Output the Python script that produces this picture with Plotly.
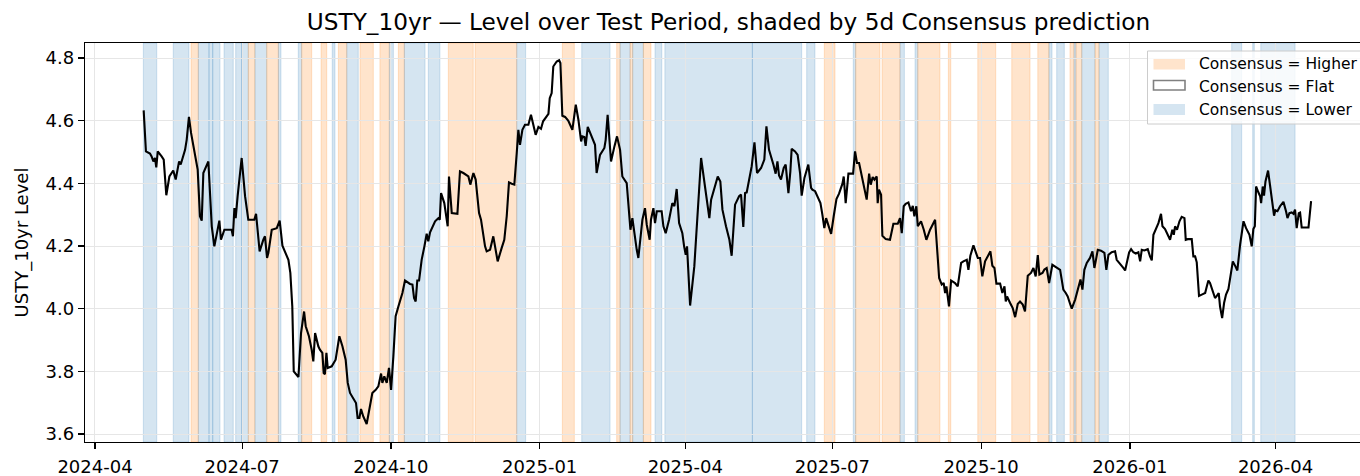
import pandas as pd
import plotly.graph_objects as go

# ---------------- data ----------------
base_date = "2024-04-01"   # day offsets below are counted from this date

level_day = [
    30.1, 31.5, 34.0, 35.0, 36.1, 37.1, 37.9, 38.8, 41.2, 42.5, 44.1, 46.0, 48.4, 49.9, 52.0, 53.0,
    55.7, 56.7, 58.1, 59.4, 63.5, 64.9, 66.0, 67.0, 70.1, 72.2, 73.8, 76.9, 77.9, 80.0, 84.5, 85.3,
    86.2, 87.0, 88.2, 90.7, 92.8, 94.8,
    98.5, 99.6, 101.8, 102.7, 104.1, 105.1, 106.4, 107.2, 109.3, 112.4, 114.2, 115.9, 117.1, 119.6,
    120.8, 122.0, 122.9, 125.8, 127.4, 129.3, 130.3, 132.3, 134.0, 135.0, 136.1, 138.1, 139.1, 140.6,
    141.4, 142.2, 143.1, 143.9, 146.4, 148.8, 151.1, 153.0, 155.0, 156.3, 157.7, 159.8, 161.4, 162.4,
    163.5, 164.5, 165.9, 168.0, 170.1, 171.5, 173.6, 175.2, 176.9, 177.7, 178.9, 180.4, 181.8, 183.1,
    184.5, 185.9, 187.6, 190.1, 191.7, 193.8,
    194.8, 196.3, 197.3, 198.3, 199.3, 200.4, 202.0, 203.7, 205.1, 206.1, 207.2, 210.3, 212.3, 213.2,
    214.0, 216.0, 218.1, 218.9, 220.6, 224.1, 225.7, 227.8, 230.9, 232.1, 234.0, 235.4, 237.5, 238.7,
    241.2, 242.2, 244.3, 246.3, 247.4, 249.0, 251.5, 253.1, 254.6, 256.0, 257.7, 259.3, 260.8, 261.8,
    262.8, 264.3, 265.9, 268.0, 269.6, 271.1, 272.5, 274.2, 275.8, 277.1, 279.3, 280.4, 281.2, 282.4,
    283.4, 285.5, 287.0, 287.8, 289.0, 290.7,
    292.7, 295.2, 297.3, 298.9, 300.6, 301.4, 302.6, 303.4, 304.7, 306.1, 308.2, 309.2, 310.2, 312.3,
    315.0, 315.8, 317.0, 317.9, 319.1, 321.2, 322.8, 324.7, 326.1, 328.8, 330.2, 331.1, 332.3, 333.3,
    335.0, 336.0, 337.3, 338.5, 340.1, 341.2, 343.0, 343.8, 345.3, 346.3, 347.4, 350.4, 351.5, 352.9,
    355.0, 357.0, 358.3, 359.7, 361.2, 363.2, 364.3, 365.3, 366.1, 368.0, 370.6, 372.7, 374.8, 377.2,
    379.9, 381.0, 385.1, 386.7, 388.0, 390.2, 392.3,
    393.7, 395.8, 398.3, 399.5, 400.9, 402.0, 403.0, 404.5, 406.1, 407.8, 409.4, 411.9, 413.9, 415.2,
    416.8, 419.5, 420.9, 422.0, 423.0, 424.2, 425.9, 427.1, 428.8, 430.0, 430.8, 432.9, 434.5, 436.0,
    437.0, 438.7, 441.1, 442.8, 443.6, 445.3, 446.9, 448.6, 449.8, 451.0, 452.1, 455.2, 456.8, 458.5,
    460.1, 462.2, 463.0, 464.2, 465.9, 468.8, 470.0, 471.2, 472.5, 474.1, 475.8, 477.2, 478.7, 479.7,
    480.9, 482.0, 483.4, 484.0, 484.8, 486.1, 486.9, 489.0, 491.6,
    493.7, 496.4, 497.8, 498.9, 500.1, 501.3, 503.0, 504.6, 505.7, 506.7, 507.9, 508.8, 510.8, 512.5,
    514.1, 516.4, 519.5, 522.0, 523.6, 524.8, 525.7, 526.5, 528.1, 529.4, 531.8, 533.5, 535.6, 537.0,
    539.1, 540.1, 541.3, 543.2, 544.6, 545.9, 547.3, 548.7, 550.4, 552.0, 553.7, 554.9, 556.2, 557.4,
    559.7, 561.1, 562.4, 563.2, 564.0, 565.9, 567.5, 569.0, 570.6, 572.0, 573.7, 575.1, 576.8, 578.8,
    580.3, 581.7, 583.0, 584.0, 585.9, 587.1, 588.5, 590.0,
    592.0, 594.7, 596.8, 597.8, 598.8, 600.3, 601.5, 603.0, 604.0, 606.1, 608.1, 609.4, 610.6, 611.8,
    613.3, 615.3, 616.8, 618.0, 618.8, 620.1, 622.1, 624.2, 625.4, 626.7, 628.7, 630.8, 631.8, 633.9,
    635.9, 637.0, 638.2, 639.5, 640.7, 642.1, 643.6, 645.2, 646.3, 647.3, 648.9, 651.0, 652.4, 653.5,
    654.5, 655.5, 657.6, 659.2, 660.1, 661.7, 663.4, 664.8, 666.2, 667.1, 667.9, 669.1, 670.6, 672.0,
    673.7, 674.5, 675.7, 678.2, 679.2, 680.3, 681.3, 682.7, 684.4, 686.5, 687.5, 688.5,
    689.5, 691.2, 692.6, 693.7, 694.9, 695.7, 697.0, 698.2, 699.4, 700.9, 702.3, 703.6, 705.2, 706.4,
    708.1, 709.3, 710.2, 711.8, 713.9, 715.3, 716.3, 717.2, 718.0, 719.2, 720.5, 721.1, 722.1, 722.9,
    723.8, 725.4, 727.1, 728.3, 729.1, 729.9, 731.2, 732.8, 734.9, 736.5, 737.4, 738.6, 740.0, 741.1,
    742.1, 743.1, 744.4, 745.2, 746.2, 749.3, 750.4, 752.0,
]

level_value = [
    4.633, 4.502, 4.495, 4.486, 4.470, 4.481, 4.451, 4.502, 4.486, 4.476, 4.362, 4.422, 4.441, 4.412, 4.470, 4.460,
    4.507, 4.539, 4.612, 4.561, 4.444, 4.295, 4.281, 4.433, 4.470, 4.263, 4.199, 4.281, 4.220, 4.252, 4.252, 4.231,
    4.321, 4.289, 4.359, 4.481, 4.359, 4.284,
    4.284, 4.303, 4.183, 4.199, 4.220, 4.231, 4.162, 4.178, 4.252, 4.257, 4.281, 4.201, 4.188, 4.156,
    4.114, 4.007, 3.800, 3.782, 3.922, 3.991, 3.944, 3.912, 3.869, 3.832, 3.922, 3.880, 3.869, 3.859,
    3.795, 3.791, 3.859, 3.811, 3.816, 3.837, 3.912, 3.880, 3.837, 3.763, 3.731, 3.715, 3.699, 3.651,
    3.651, 3.680, 3.656, 3.632, 3.699, 3.731, 3.741, 3.752, 3.793, 3.763, 3.784, 3.763, 3.811, 3.741,
    3.848, 3.976, 4.007, 4.050, 4.090, 4.082,
    4.079, 4.077, 4.034, 4.023, 4.090, 4.090, 4.156, 4.199, 4.239, 4.215, 4.244, 4.279, 4.289, 4.284,
    4.369, 4.337, 4.263, 4.422, 4.305, 4.303, 4.438, 4.433, 4.422, 4.396, 4.433, 4.412, 4.305, 4.284,
    4.199, 4.183, 4.188, 4.231, 4.194, 4.151, 4.194, 4.220, 4.295, 4.403, 4.399, 4.396, 4.497, 4.571,
    4.523, 4.571, 4.587, 4.587, 4.619, 4.582, 4.555, 4.580, 4.574, 4.598, 4.614, 4.622, 4.672, 4.688,
    4.773, 4.789, 4.793, 4.784, 4.616, 4.612,
    4.600, 4.571, 4.651, 4.604, 4.534, 4.550, 4.548, 4.520, 4.580, 4.563, 4.539, 4.523, 4.433, 4.491,
    4.513, 4.539, 4.619, 4.550, 4.470, 4.518, 4.550, 4.507, 4.422, 4.401, 4.289, 4.252, 4.289, 4.247,
    4.188, 4.162, 4.231, 4.284, 4.321, 4.268, 4.220, 4.284, 4.321, 4.273, 4.311, 4.311, 4.263, 4.241,
    4.284, 4.337, 4.327, 4.382, 4.273, 4.241, 4.199, 4.172, 4.199, 4.010, 4.135, 4.305, 4.481, 4.390,
    4.289, 4.348, 4.422, 4.406, 4.316, 4.263, 4.220,
    4.169, 4.332, 4.359, 4.364, 4.261, 4.369, 4.371, 4.412, 4.455, 4.531, 4.433, 4.449, 4.476, 4.582,
    4.507, 4.460, 4.431, 4.470, 4.425, 4.412, 4.449, 4.460, 4.369, 4.438, 4.510, 4.502, 4.491, 4.433,
    4.361, 4.417, 4.460, 4.386, 4.380, 4.375, 4.359, 4.337, 4.300, 4.257, 4.289, 4.239, 4.295, 4.350,
    4.367, 4.399, 4.422, 4.337, 4.431, 4.431, 4.502, 4.465, 4.465, 4.428, 4.390, 4.348, 4.431, 4.396,
    4.420, 4.412, 4.422, 4.337, 4.380, 4.364, 4.233, 4.222, 4.220,
    4.271, 4.271, 4.289, 4.241, 4.327, 4.335, 4.339, 4.311, 4.328, 4.295, 4.327, 4.263, 4.279, 4.252,
    4.220, 4.252, 4.284, 4.098, 4.077, 4.082, 4.050, 4.071, 4.007, 4.090, 4.082, 4.071, 4.146, 4.151,
    4.156, 4.124, 4.169, 4.202, 4.178, 4.162, 4.162, 4.103, 4.151, 4.167, 4.183, 4.137, 4.130, 4.080,
    4.080, 4.050, 4.071, 4.023, 4.039, 4.018, 4.002, 3.973, 4.015, 4.023, 4.013, 3.991, 4.105, 4.114,
    4.130, 4.103, 4.171, 4.109, 4.114, 4.125, 4.130, 4.082,
    4.140, 4.131, 4.124, 4.093, 4.061, 4.050, 4.039, 4.015, 4.000, 4.029, 4.071, 4.093, 4.061, 4.124,
    4.146, 4.162, 4.183, 4.130, 4.151, 4.188, 4.185, 4.178, 4.124, 4.172, 4.180, 4.183, 4.156, 4.144,
    4.130, 4.122, 4.156, 4.180, 4.190, 4.180, 4.176, 4.180, 4.151, 4.188, 4.186, 4.190, 4.167, 4.154,
    4.236, 4.250, 4.273, 4.303, 4.263, 4.254, 4.236, 4.220, 4.252, 4.236, 4.263, 4.252, 4.279, 4.293,
    4.289, 4.220, 4.222, 4.222, 4.167, 4.167, 4.148, 4.041, 4.045, 4.050, 4.071, 4.090,
    4.082, 4.052, 4.034, 4.041, 4.050, 4.007, 3.970, 4.018, 4.045, 4.063, 4.114, 4.151, 4.135, 4.122,
    4.204, 4.250, 4.279, 4.257, 4.236, 4.199, 4.254, 4.263, 4.390, 4.374, 4.359, 4.337, 4.390, 4.361,
    4.406, 4.441, 4.380, 4.329, 4.297, 4.314, 4.311, 4.327, 4.341, 4.311, 4.289, 4.305, 4.307, 4.303,
    4.316, 4.257, 4.305, 4.307, 4.259, 4.259, 4.259, 4.343,
]

# consensus prediction runs (start / end day offsets from base_date)
shade_start_day = [
    29.9, 48.4, 59.4, 63.9, 70.5, 72.8, 79.8, 87.0, 90.7, 94.8, 98.9, 106.2, 113.4, 125.7, 127.8,
    139.8, 146.7, 150.5, 155.7, 163.9, 176.2, 182.0, 187.6, 191.3, 206.1, 218.5, 235.0, 260.8, 289.0,
    301.0, 322.6, 324.7, 330.9, 332.5, 339.1, 346.3, 352.4, 406.5, 440.1, 451.0, 468.9, 470.4, 486.7,
    497.8, 507.1, 508.8, 527.7, 545.9, 566.9, 583.0, 589.9, 594.7, 602.9, 605.4, 606.6, 610.2, 618.4,
    620.9, 702.9, 715.9, 720.9,
]
shade_end_day = [
    38.2, 58.1, 63.9, 70.5, 72.8, 77.3, 85.5, 90.7, 94.8, 98.9, 106.2, 113.4, 115.0, 127.8, 134.0,
    143.3, 148.4, 155.7, 162.8, 172.1, 182.0, 184.5, 191.3, 204.1, 213.3, 233.9, 260.8, 266.3, 296.4,
    318.5, 324.7, 330.9, 332.5, 339.1, 343.8, 350.5, 406.5, 437.0, 445.2, 457.6, 470.4, 485.4, 497.8,
    500.5, 508.8, 522.5, 529.2, 557.0, 578.2, 589.9, 591.8, 599.4, 605.4, 606.6, 610.2, 618.4, 620.9,
    626.6, 709.1, 716.9, 742.1,
]
shade_label = [
    "Lower", "Lower", "Higher", "Lower", "Lower", "Lower", "Lower", "Lower", "Lower", "Higher", "Lower",
    "Higher", "Lower", "Lower", "Higher", "Higher", "Lower", "Higher", "Lower", "Higher", "Higher",
    "Lower", "Higher", "Lower", "Lower", "Higher", "Higher", "Lower", "Higher", "Lower", "Higher",
    "Lower", "Higher", "Lower", "Higher", "Lower", "Lower", "Lower", "Lower", "Higher", "Lower",
    "Higher", "Higher", "Lower", "Lower", "Higher", "Higher", "Higher", "Higher", "Higher", "Lower",
    "Lower", "Higher", "Lower", "Higher", "Lower", "Higher", "Lower", "Lower", "Lower", "Lower",
]

legend_labels = ["Consensus = Higher", "Consensus = Flat", "Consensus = Lower"]
y_tick_values = [3.6, 3.8, 4.0, 4.2, 4.4, 4.6, 4.8]

# ---------------- figure ----------------
W, H = 1360, 476
ML, MR, MT, MB = 85, 0, 43, 34
PW, PH = W - ML - MR, H - MT - MB

base = pd.Timestamp(base_date)
dates = base + pd.to_timedelta(level_day, unit="D")

FILL = {"Higher": "rgba(255,127,14,0.21)", "Lower": "rgba(31,119,180,0.19)"}

fig = go.Figure()
fig.add_trace(go.Scatter(x=dates, y=level_value, mode="lines",
                         line=dict(color="black", width=2.1), showlegend=False,
                         hoverinfo="skip"))

shapes = []
for s, e, lab in zip(shade_start_day, shade_end_day, shade_label):
    x0 = base + pd.Timedelta(days=s)
    x1 = base + pd.Timedelta(days=e)
    shapes.append(dict(type="rect", xref="x", yref="paper", x0=x0, x1=x1, y0=0, y1=1,
                       fillcolor=FILL[lab], line=dict(color=FILL[lab], width=1), layer="below"))


def px_x(p):
    return (p - ML) / PW


def px_y(p):
    return (H - MB - p) / PH


# legend (matplotlib-like box)
shapes.append(dict(type="rect", xref="paper", yref="paper", x0=px_x(1147.5), x1=px_x(1362),
                   y0=px_y(124), y1=px_y(51), fillcolor="rgba(255,255,255,0.8)",
                   line=dict(color="#cccccc", width=1), layer="above"))
patch_rows = [(59, 69.5), (80.5, 90), (104, 115)]
patch_fill = [FILL["Higher"], "white", FILL["Lower"]]
patch_line = [dict(width=0), dict(color="#808080", width=1.6), dict(width=0)]
text_y = [64, 87, 110]
annotations = []
for (t, b), fc, ln, ty, lab in zip(patch_rows, patch_fill, patch_line, text_y, legend_labels):
    shapes.append(dict(type="rect", xref="paper", yref="paper", x0=px_x(1153.5), x1=px_x(1185),
                       y0=px_y(b), y1=px_y(t), fillcolor=fc, line=ln, layer="above"))
    annotations.append(dict(text=lab, xref="paper", yref="paper", x=px_x(1196.5), y=px_y(ty),
                            xanchor="left", yanchor="middle", showarrow=False,
                            font=dict(size=15.5, color="black", family="DejaVu Sans")))

fig.update_layout(
    width=W, height=H,
    margin=dict(l=ML, r=MR, t=MT, b=MB),
    paper_bgcolor="white", plot_bgcolor="white",
    font=dict(family="DejaVu Sans", size=18, color="black"),
    title=dict(text="USTY_10yr — Level over Test Period, shaded by 5d Consensus prediction",
               x=px_x(728.5), xref="paper", xanchor="center",
               y=1 - 22 / H, yref="container", yanchor="middle",
               font=dict(size=23.2, color="black", family="DejaVu Sans")),
    shapes=shapes, annotations=annotations,
    showlegend=False,
)

fig.update_xaxes(
    type="date", range=["2024-03-25 19:40", "2026-05-23 06:00"],
    tick0="2024-01-01", dtick="M3", tickformat="%Y-%m",
    showgrid=True, gridcolor="#e6e6e6", gridwidth=1,
    showline=True, linecolor="black", linewidth=1.2, mirror=True,
    ticks="outside", ticklen=6, tickwidth=1.2, tickcolor="black",
    tickfont=dict(size=18), zeroline=False, ticklabelstandoff=2,
)
fig.update_yaxes(
    range=[3.5745, 4.848], tickvals=y_tick_values, tickformat=".1f",
    showgrid=True, gridcolor="#e6e6e6", gridwidth=1,
    showline=True, linecolor="black", linewidth=1.2, mirror=False,
    ticks="outside", ticklen=6, tickwidth=1.2, tickcolor="black",
    tickfont=dict(size=18), zeroline=False,
    title=dict(text="USTY_10yr Level", font=dict(size=18), standoff=12),
)

fig.write_html(
    "out.html",
    config={"displayModeBar": False, "staticPlot": True},
    post_script="document.body.style.margin='0';document.body.style.overflow='hidden';",
)
